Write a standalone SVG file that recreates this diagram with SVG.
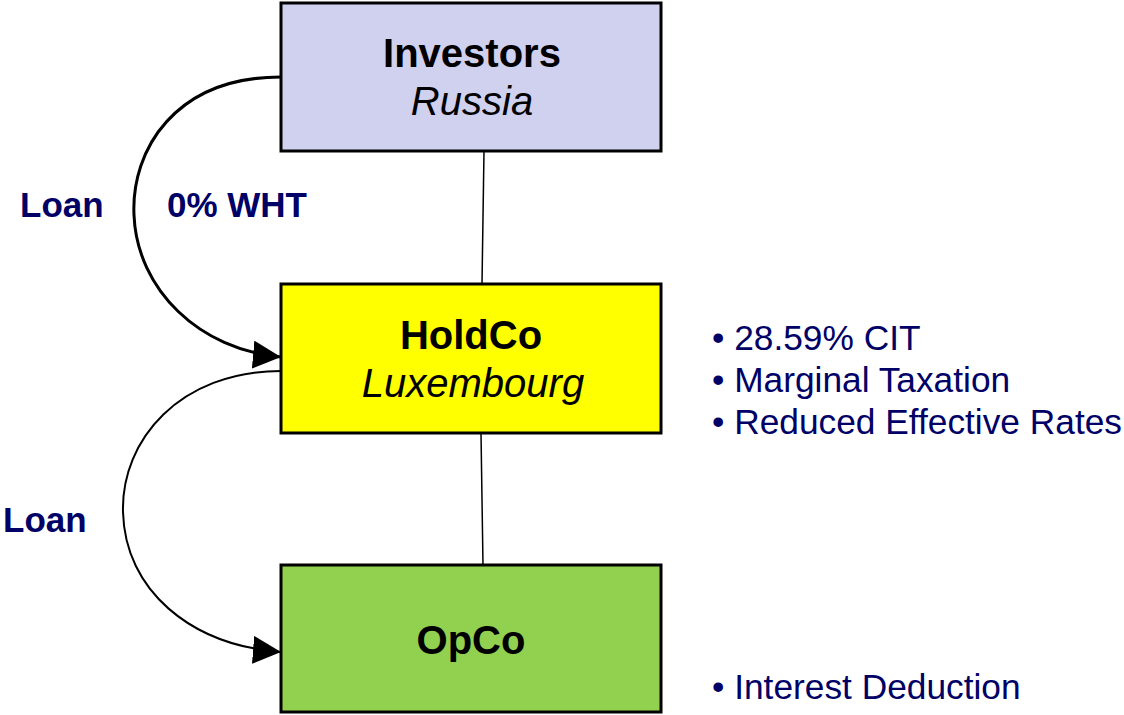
<svg xmlns="http://www.w3.org/2000/svg" width="1124" height="715" viewBox="0 0 1124 715">
  <style>
    .box { stroke: #000; stroke-width: 3; }
    .title { font-family: "Liberation Sans", Arial, sans-serif; font-size: 40px; font-weight: bold; fill: #000; text-anchor: middle; }
    .sub { font-family: "Liberation Sans", Arial, sans-serif; font-size: 40px; font-style: italic; fill: #000; text-anchor: middle; }
    .label { font-family: "Liberation Sans", Arial, sans-serif; font-size: 35px; font-weight: bold; fill: #000066; }
    .bullet { font-family: "Liberation Sans", Arial, sans-serif; font-size: 35.3px; fill: #000066; }
    .link { fill: none; stroke: #000; stroke-width: 1.5; }
    .loan { fill: none; stroke: #000; }
  </style>
  <defs>
    <marker id="arrow" markerUnits="userSpaceOnUse" markerWidth="30" markerHeight="30" refX="28" refY="14" orient="auto">
      <path d="M0,0 L28,14 L0,28 Z" fill="#000"/>
    </marker>
  </defs>
  <rect width="1124" height="715" fill="#fff"/>

  <!-- connectors -->
  <g id="connectors">
    <line class="link" x1="484" y1="151" x2="482" y2="284"/>
    <line class="link" x1="481" y1="433" x2="483" y2="565"/>
    <path class="loan" stroke-width="3" d="M281,77 C175,77 131,150 134,215 C137,290 200,350 281,357" marker-end="url(#arrow)"/>
    <path class="loan" stroke-width="2" d="M281,371 C180,371 121,440 123,512 C125,590 190,645 281,652" marker-end="url(#arrow)"/>
  </g>

  <!-- edge labels -->
  <g id="labels">
    <text class="label" x="20" y="217">Loan</text>
    <text class="label" x="167" y="217">0% WHT</text>
    <text class="label" x="3" y="532">Loan</text>
  </g>

  <g id="investors">
    <rect class="box" x="281" y="3" width="380" height="148" fill="#d0d0ef"/>
    <text class="title" x="472" y="67">Investors</text>
    <text class="sub" x="472" y="115">Russia</text>
  </g>

  <g id="holdco">
    <rect class="box" x="281" y="284" width="380" height="149" fill="#ffff00"/>
    <text class="title" x="471" y="349">HoldCo</text>
    <text class="sub" x="473" y="397">Luxembourg</text>
  </g>

  <g id="opco">
    <rect class="box" x="281" y="565" width="380" height="147" fill="#92d050"/>
    <text class="title" x="471" y="654">OpCo</text>
  </g>

  <!-- notes -->
  <g id="holdco-notes">
    <text class="bullet" x="712" y="350">• 28.59% CIT</text>
    <text class="bullet" x="712" y="392">• Marginal Taxation</text>
    <text class="bullet" x="712" y="434">• Reduced Effective Rates</text>
  </g>
  <g id="opco-notes">
    <text class="bullet" x="712" y="699">• Interest Deduction</text>
  </g>
</svg>
